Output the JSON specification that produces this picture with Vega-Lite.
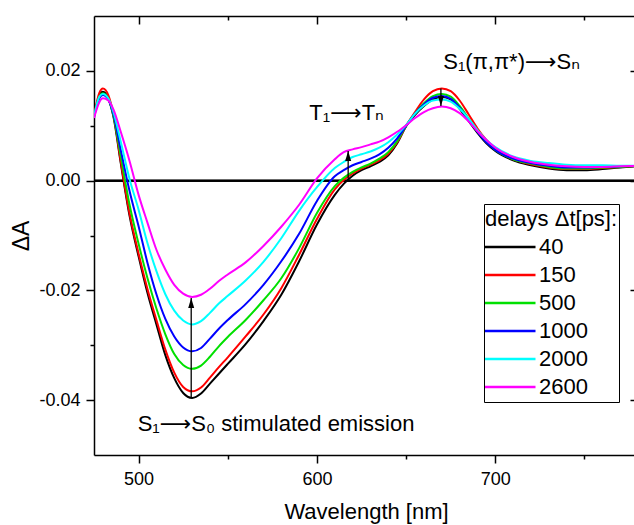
{
  "$schema": "https://vega.github.io/schema/vega-lite/v6.json",
  "width": 544,
  "height": 439,
  "autosize": {"type": "none"},
  "padding": {"left": 94, "top": 16, "right": 0, "bottom": 70},
  "background": "white",
  "config": {
    "view": {"stroke": null},
    "font": "Liberation Sans",
    "axis": {
      "grid": false,
      "domainColor": "black",
      "domainWidth": 1.5,
      "tickColor": "black",
      "tickWidth": 1.5,
      "labelColor": "black",
      "titleColor": "black",
      "labelFont": "Liberation Sans",
      "titleFont": "Liberation Sans",
      "labelFontSize": 18,
      "titleFontSize": 22,
      "titleFontWeight": "normal",
      "labelOverlap": false,
      "labelFlush": false
    }
  },
  "datasets": {
    "spectra": [
      {"wl": 475, "40": 0.0117, "150": 0.0118, "500": 0.0117, "1000": 0.0116, "2000": 0.0116, "2600": 0.0114},
      {"wl": 478, "40": 0.0155, "150": 0.0160, "500": 0.0152, "1000": 0.0150, "2000": 0.0153, "2600": 0.0143},
      {"wl": 480, "40": 0.0162, "150": 0.0168, "500": 0.0159, "1000": 0.0156, "2000": 0.0158, "2600": 0.0150},
      {"wl": 483, "40": 0.0150, "150": 0.0156, "500": 0.0149, "1000": 0.0148, "2000": 0.0150, "2600": 0.0146},
      {"wl": 486, "40": 0.0115, "150": 0.0120, "500": 0.0117, "1000": 0.0120, "2000": 0.0124, "2600": 0.0129},
      {"wl": 490, "40": 0.0032, "150": 0.0035, "500": 0.0045, "1000": 0.0056, "2000": 0.0071, "2600": 0.0089},
      {"wl": 495, "40": -0.0065, "150": -0.0061, "500": -0.0045, "1000": -0.0020, "2000": 0.0002, "2600": 0.0035},
      {"wl": 500, "40": -0.0138, "150": -0.0133, "500": -0.0115, "1000": -0.0083, "2000": -0.0053, "2600": -0.0026},
      {"wl": 505, "40": -0.0205, "150": -0.0198, "500": -0.0178, "1000": -0.0150, "2000": -0.0114, "2600": -0.0077},
      {"wl": 510, "40": -0.0262, "150": -0.0254, "500": -0.0233, "1000": -0.0207, "2000": -0.0165, "2600": -0.0126},
      {"wl": 515, "40": -0.0318, "150": -0.0308, "500": -0.0280, "1000": -0.0252, "2000": -0.0207, "2600": -0.0162},
      {"wl": 520, "40": -0.0360, "150": -0.0350, "500": -0.0316, "1000": -0.0284, "2000": -0.0237, "2600": -0.0190},
      {"wl": 525, "40": -0.0387, "150": -0.0376, "500": -0.0336, "1000": -0.0304, "2000": -0.0255, "2600": -0.0206},
      {"wl": 530, "40": -0.0396, "150": -0.0384, "500": -0.0343, "1000": -0.0311, "2000": -0.0262, "2600": -0.0212},
      {"wl": 535, "40": -0.0388, "150": -0.0377, "500": -0.0337, "1000": -0.0305, "2000": -0.0256, "2600": -0.0208},
      {"wl": 540, "40": -0.0370, "150": -0.0359, "500": -0.0321, "1000": -0.0288, "2000": -0.0241, "2600": -0.0197},
      {"wl": 545, "40": -0.0352, "150": -0.0340, "500": -0.0302, "1000": -0.0270, "2000": -0.0224, "2600": -0.0183},
      {"wl": 550, "40": -0.0334, "150": -0.0322, "500": -0.0285, "1000": -0.0254, "2000": -0.0210, "2600": -0.0171},
      {"wl": 560, "40": -0.0298, "150": -0.0284, "500": -0.0254, "1000": -0.0225, "2000": -0.0182, "2600": -0.0149},
      {"wl": 570, "40": -0.0256, "150": -0.0244, "500": -0.0218, "1000": -0.0190, "2000": -0.0148, "2600": -0.0119},
      {"wl": 580, "40": -0.0208, "150": -0.0196, "500": -0.0178, "1000": -0.0147, "2000": -0.0105, "2600": -0.0084},
      {"wl": 590, "40": -0.0147, "150": -0.0135, "500": -0.0123, "1000": -0.0097, "2000": -0.0055, "2600": -0.0044},
      {"wl": 600, "40": -0.0080, "150": -0.0070, "500": -0.0059, "1000": -0.0037, "2000": -0.0012, "2600": 0.0004},
      {"wl": 610, "40": -0.0026, "150": -0.0016, "500": -0.0010, "1000": 0.0008, "2000": 0.0023, "2600": 0.0039},
      {"wl": 615, "40": -0.0006, "150": 0.0001, "500": 0.0005, "1000": 0.0019, "2000": 0.0034, "2600": 0.0052},
      {"wl": 620, "40": 0.0009, "150": 0.0013, "500": 0.0016, "1000": 0.0028, "2000": 0.0043, "2600": 0.0057},
      {"wl": 625, "40": 0.0019, "150": 0.0022, "500": 0.0024, "1000": 0.0034, "2000": 0.0048, "2600": 0.0061},
      {"wl": 630, "40": 0.0026, "150": 0.0029, "500": 0.0031, "1000": 0.0040, "2000": 0.0053, "2600": 0.0066},
      {"wl": 635, "40": 0.0034, "150": 0.0037, "500": 0.0040, "1000": 0.0048, "2000": 0.0060, "2600": 0.0071},
      {"wl": 640, "40": 0.0046, "150": 0.0049, "500": 0.0052, "1000": 0.0060, "2000": 0.0070, "2600": 0.0079},
      {"wl": 645, "40": 0.0068, "150": 0.0070, "500": 0.0072, "1000": 0.0077, "2000": 0.0084, "2600": 0.0089},
      {"wl": 650, "40": 0.0099, "150": 0.0100, "500": 0.0100, "1000": 0.0100, "2000": 0.0101, "2600": 0.0101},
      {"wl": 655, "40": 0.0120, "150": 0.0125, "500": 0.0122, "1000": 0.0122, "2000": 0.0122, "2600": 0.0114},
      {"wl": 660, "40": 0.0136, "150": 0.0148, "500": 0.0141, "1000": 0.0139, "2000": 0.0137, "2600": 0.0125},
      {"wl": 665, "40": 0.0148, "150": 0.0163, "500": 0.0154, "1000": 0.0151, "2000": 0.0146, "2600": 0.0132},
      {"wl": 670, "40": 0.0153, "150": 0.0168, "500": 0.0158, "1000": 0.0154, "2000": 0.0148, "2600": 0.0135},
      {"wl": 675, "40": 0.0148, "150": 0.0163, "500": 0.0153, "1000": 0.0149, "2000": 0.0144, "2600": 0.0132},
      {"wl": 680, "40": 0.0131, "150": 0.0146, "500": 0.0136, "1000": 0.0133, "2000": 0.0131, "2600": 0.0123},
      {"wl": 685, "40": 0.0109, "150": 0.0121, "500": 0.0113, "1000": 0.0111, "2000": 0.0113, "2600": 0.0108},
      {"wl": 690, "40": 0.0087, "150": 0.0095, "500": 0.0090, "1000": 0.0089, "2000": 0.0092, "2600": 0.0090},
      {"wl": 695, "40": 0.0068, "150": 0.0074, "500": 0.0071, "1000": 0.0070, "2000": 0.0074, "2600": 0.0074},
      {"wl": 700, "40": 0.0054, "150": 0.0058, "500": 0.0056, "1000": 0.0056, "2000": 0.0061, "2600": 0.0060},
      {"wl": 710, "40": 0.0037, "150": 0.0039, "500": 0.0039, "1000": 0.0040, "2000": 0.0044, "2600": 0.0043},
      {"wl": 720, "40": 0.0028, "150": 0.0030, "500": 0.0031, "1000": 0.0032, "2000": 0.0036, "2600": 0.0034},
      {"wl": 730, "40": 0.0022, "150": 0.0024, "500": 0.0025, "1000": 0.0027, "2000": 0.0032, "2600": 0.0029},
      {"wl": 740, "40": 0.0019, "150": 0.0021, "500": 0.0022, "1000": 0.0024, "2000": 0.0029, "2600": 0.0026},
      {"wl": 750, "40": 0.0019, "150": 0.0021, "500": 0.0022, "1000": 0.0024, "2000": 0.0028, "2600": 0.0025},
      {"wl": 760, "40": 0.0021, "150": 0.0023, "500": 0.0024, "1000": 0.0025, "2000": 0.0028, "2600": 0.0025},
      {"wl": 770, "40": 0.0024, "150": 0.0025, "500": 0.0025, "1000": 0.0026, "2000": 0.0027, "2600": 0.0026},
      {"wl": 780, "40": 0.0026, "150": 0.0027, "500": 0.0027, "1000": 0.0027, "2000": 0.0027, "2600": 0.0027}
    ],
    "arrows": [
      {"wl": 529.5, "from": -0.0396, "to": -0.0214, "dir": "up"},
      {"wl": 617.5, "from": 0.0, "to": 0.0054, "dir": "up"},
      {"wl": 669.5, "from": 0.0168, "to": 0.0136, "dir": "down"}
    ],
    "notes": [
      {"wl": 499.5, "dA": -0.0457, "label": "S₁⟶S₀ stimulated emission"},
      {"wl": 595.7, "dA": 0.0110, "label": "T₁⟶Tₙ"},
      {"wl": 670.8, "dA": 0.0204, "label": "S₁(π,π*)⟶Sₙ"}
    ]
  },
  "layer": [
    {
      "data": {"name": "arrows"},
      "mark": {"type": "rule", "color": "black", "strokeWidth": 2},
      "encoding": {
        "y": {"datum": 0, "type": "quantitative", "scale": {"domain": [-0.05, 0.03], "nice": false, "zero": false}, "axis": null}
      }
    },
    {
      "data": {"name": "spectra"},
      "transform": [{"fold": ["40", "150", "500", "1000", "2000", "2600"], "as": ["delay", "dA"]}],
      "mark": {"type": "line", "strokeWidth": 2, "interpolate": "monotone", "clip": true},
      "encoding": {
        "x": {
          "field": "wl", "type": "quantitative",
          "scale": {"domain": [475, 780], "nice": false, "zero": false},
          "axis": {
            "orient": "bottom",
            "values": [500, 550, 600, 650, 700, 750],
            "tickSize": {"condition": {"test": "datum.value % 100 != 0", "value": 4}, "value": 8},
            "labelExpr": "datum.value % 100 == 0 ? datum.label : ''",
            "labelPadding": 7,
            "title": "Wavelength [nm]",
            "titlePadding": 13
          }
        },
        "y": {
          "field": "dA", "type": "quantitative",
          "scale": {"domain": [-0.05, 0.03], "nice": false, "zero": false},
          "axis": {
            "orient": "left",
            "values": [-0.04, -0.03, -0.02, -0.01, 0, 0.01, 0.02],
            "tickSize": {"condition": {"test": "round(datum.value*100) % 2 != 0", "value": 4}, "value": 8},
            "labelExpr": "round(datum.value*100) % 2 == 0 ? replace(format(datum.value, '.2f'), '−', '-') : ''",
            "labelPadding": 6,
            "title": "ΔA",
            "titleFontSize": 23,
            "titlePadding": 5
          }
        },
        "color": {
          "field": "delay", "type": "nominal",
          "scale": {"domain": ["40", "150", "500", "1000", "2000", "2600"], "range": ["#000000", "#ff0000", "#00e000", "#0000ff", "#00ffff", "#ff00ff"]},
          "legend": {
            "orient": "none",
            "legendX": 390,
            "legendY": 188,
            "title": "delays Δt[ps]:",
            "titleFont": "Liberation Sans",
            "titleFontSize": 22,
            "titleFontWeight": "normal",
            "titleColor": "black",
            "titleBaseline": "line-top",
            "titleLineHeight": 30,
            "titlePadding": 6,
            "labelFont": "Liberation Sans",
            "labelFontSize": 22,
            "labelColor": "black",
            "labelOffset": 2,
            "symbolType": "stroke",
            "symbolSize": 2601,
            "symbolStrokeWidth": 2.5,
            "symbolOffset": -2,
            "clipHeight": 28,
            "rowPadding": 0,
            "padding": 1,
            "strokeColor": "black",
            "fillColor": "white"
          }
        }
      }
    },
    {
      "data": {"name": "arrows"},
      "mark": {"type": "rule", "color": "black", "strokeWidth": 1.3},
      "encoding": {
        "x": {
          "field": "wl", "type": "quantitative",
          "axis": {
            "orient": "top",
            "values": [500, 550, 600, 650, 700, 750],
            "tickSize": {"condition": {"test": "datum.value % 100 != 0", "value": -4}, "value": -8},
            "labels": false,
            "title": null
          }
        },
        "y": {
          "field": "from", "type": "quantitative",
          "axis": {
            "orient": "right",
            "values": [-0.04, -0.03, -0.02, -0.01, 0, 0.01, 0.02],
            "tickSize": {"condition": {"test": "round(datum.value*100) % 2 != 0", "value": -4}, "value": -8},
            "labels": false,
            "title": null
          }
        },
        "y2": {"field": "to"}
      }
    },
    {
      "data": {"name": "arrows"},
      "transform": [{"filter": "datum.dir == 'up'"}],
      "mark": {"type": "point", "shape": "M0,0 L-0.6,2 L0.6,2 Z", "filled": true, "color": "black", "opacity": 1, "size": 100},
      "encoding": {
        "x": {"field": "wl", "type": "quantitative", "axis": null},
        "y": {"field": "to", "type": "quantitative", "axis": null}
      }
    },
    {
      "data": {"name": "arrows"},
      "transform": [{"filter": "datum.dir == 'down'"}],
      "mark": {"type": "point", "shape": "M0,0 L-0.6,-2 L0.6,-2 Z", "filled": true, "color": "black", "opacity": 1, "size": 100},
      "encoding": {
        "x": {"field": "wl", "type": "quantitative", "axis": null},
        "y": {"field": "to", "type": "quantitative", "axis": null}
      }
    },
    {
      "data": {"name": "notes"},
      "mark": {"type": "text", "align": "left", "baseline": "alphabetic", "fontSize": 22, "font": "Liberation Sans, DejaVu Sans", "color": "black"},
      "encoding": {
        "x": {"field": "wl", "type": "quantitative", "axis": null},
        "y": {"field": "dA", "type": "quantitative", "axis": null},
        "text": {"field": "label"}
      }
    }
  ],
  "resolve": {"axis": {"x": "independent", "y": "independent"}}
}
